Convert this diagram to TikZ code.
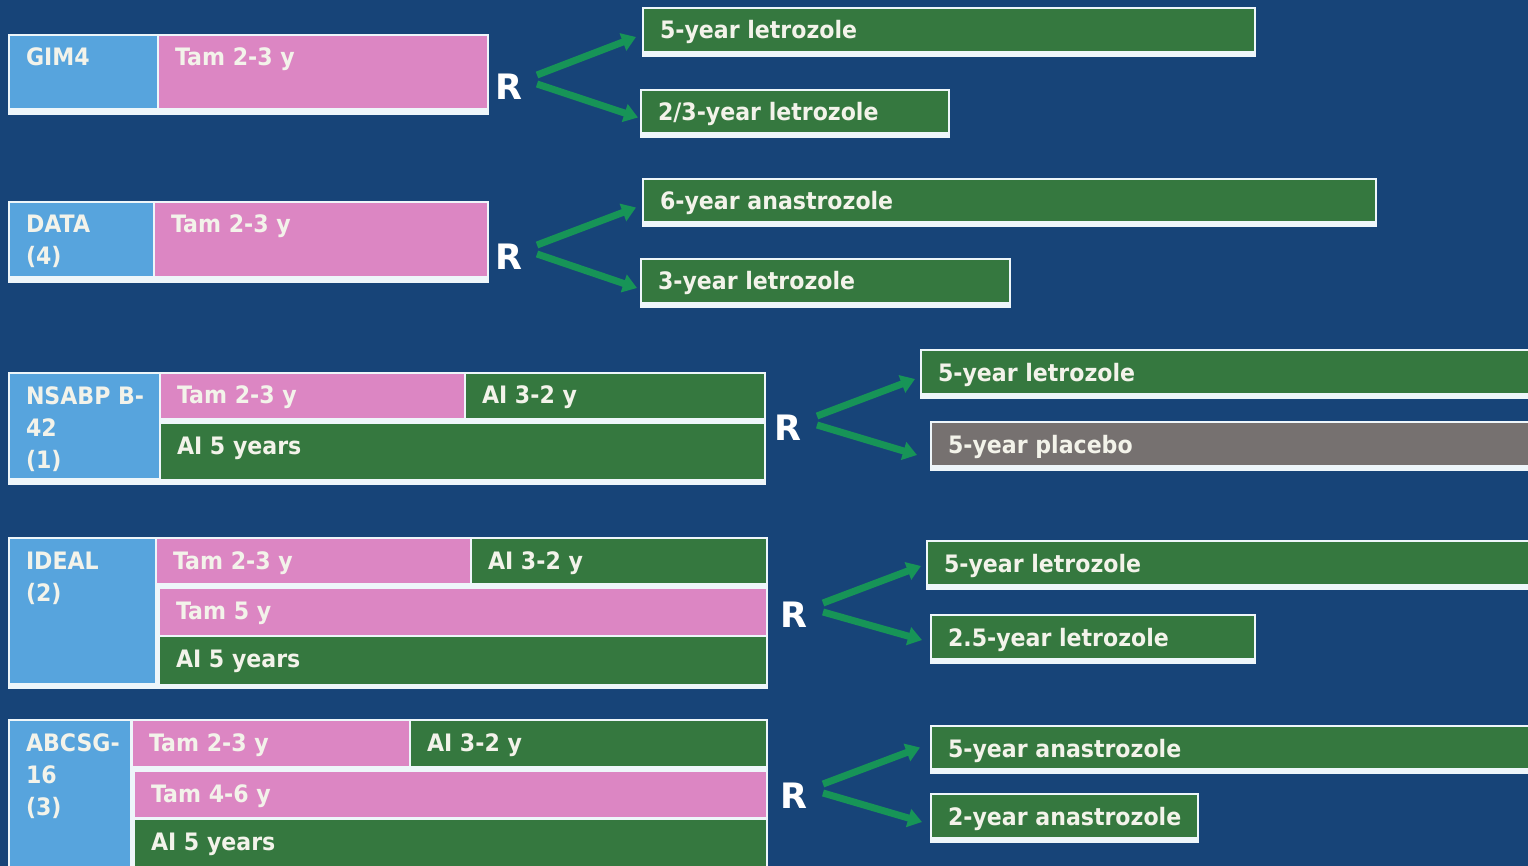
\documentclass[tikz,border=0pt]{standalone}
\usepackage{fontspec}
\setmainfont{DejaVu Sans}[FakeStretch=0.92]
\newfontfamily\rfont{DejaVu Sans}
\usetikzlibrary{calc,arrows.meta}
\definecolor{bg}{HTML}{174478}
\definecolor{cblue}{HTML}{57A4DD}
\definecolor{cpink}{HTML}{DC86C3}
\definecolor{cgreen}{HTML}{35783F}
\definecolor{cgray}{HTML}{767170}
\definecolor{edgecol}{HTML}{EEF6FA}
\definecolor{txt}{HTML}{F3F3EA}
\definecolor{arrcol}{HTML}{179457}
\tikzset{
  x=1pt, y=-1pt,
  cellsty/.style={anchor=north west, inner sep=0pt, outer sep=0pt, text=txt,
    font=\bfseries\fontsize{24}{32}\selectfont},
  edge/.style={fill=edgecol},
  rlab/.style={text=white, font=\rfont\bfseries\fontsize{35}{35}\selectfont, inner sep=0pt},
  arr/.style={draw=arrcol, line width=7pt, -{Triangle[length=14pt,width=18pt]}},
}
\newcommand\mkcell[7]{%
  \pgfmathsetmacro\cw{#4-#2}\pgfmathsetmacro\ch{#5-#3}%
  \node[cellsty,fill=#6,minimum width=\cw pt,minimum height=\ch pt] (#1) at (#2,#3)
  {\parbox[c][\ch pt][t]{\cw pt}{\raggedright\leftskip=16pt\rule{0pt}{30pt}#7}};%
}
\begin{document}
\begin{tikzpicture}
\fill[bg] (0,0) rectangle (1528,866);
\useasboundingbox (0,0) rectangle (1528,866);

% ---- GIM4
\fill[edge] (8,34) rectangle (489,115);
\mkcell{gim}{10}{36}{157}{108}{cblue}{GIM4}
\mkcell{gimtam}{159}{36}{487}{108}{cpink}{Tam 2-3 y}
\node[rlab] (R1) at (509,87) {R};
\fill[edge] (642,7) rectangle (1256,57);
\mkcell{t1a}{644}{9}{1254}{51}{cgreen}{5-year letrozole}
\fill[edge] (640,89) rectangle (950,138);
\mkcell{t1b}{642}{91}{948}{132}{cgreen}{2/3-year letrozole}
\draw[arr] ($(R1)+(28,-12)$) -- ($(t1a.west)+(-8,7)$);
\draw[arr] ($(R1)+(28,-3)$) -- ($(t1b.west)+(-4,6)$);

% ---- DATA
\fill[edge] (8,201) rectangle (489,283);
\mkcell{data}{10}{203}{153}{276}{cblue}{DATA\\(4)}
\mkcell{datatam}{155}{203}{487}{276}{cpink}{Tam 2-3 y}
\node[rlab] (R2) at (509,257) {R};
\fill[edge] (642,178) rectangle (1377,227);
\mkcell{t2a}{644}{180}{1375}{221}{cgreen}{6-year anastrozole}
\fill[edge] (640,258) rectangle (1011,308);
\mkcell{t2b}{642}{260}{1009}{302}{cgreen}{3-year letrozole}
\draw[arr] ($(R2)+(28,-12)$) -- ($(t2a.west)+(-8,7)$);
\draw[arr] ($(R2)+(28,-3)$) -- ($(t2b.west)+(-5,7)$);

% ---- NSABP B-42
\fill[edge] (8,372) rectangle (766,485);
\mkcell{nsabp}{10}{374}{159}{478}{cblue}{NSABP B-\\42\\(1)}
\mkcell{nstam}{161}{374}{464}{418}{cpink}{Tam 2-3 y}
\mkcell{nsai}{466}{374}{764}{418}{cgreen}{AI 3-2 y}
\mkcell{nsai5}{161}{424}{764}{479}{cgreen}{AI 5 years}
\node[rlab] (R3) at (788,428) {R};
\fill[edge] (920,349) rectangle (1532,399);
\mkcell{t3a}{922}{351}{1532}{393}{cgreen}{5-year letrozole}
\fill[edge] (930,421) rectangle (1532,471);
\mkcell{t3b}{932}{423}{1532}{465}{cgray}{5-year placebo}
\draw[arr] ($(R3)+(29,-12)$) -- ($(t3a.west)+(-7,7)$);
\draw[arr] ($(R3)+(29,-3)$) -- ($(t3b.west)+(-15,11)$);

% ---- IDEAL
\fill[edge] (8,537) rectangle (768,689);
\mkcell{ideal}{10}{539}{155}{683}{cblue}{IDEAL\\(2)}
\mkcell{idtam}{157}{539}{470}{583}{cpink}{Tam 2-3 y}
\mkcell{idai}{472}{539}{766}{583}{cgreen}{AI 3-2 y}
\mkcell{idtam5}{160}{589}{766}{635}{cpink}{Tam 5 y}
\mkcell{idai5}{160}{637}{766}{684}{cgreen}{AI 5 years}
\node[rlab] (R4) at (794,615) {R};
\fill[edge] (926,540) rectangle (1532,590);
\mkcell{t4a}{928}{542}{1532}{584}{cgreen}{5-year letrozole}
\fill[edge] (930,614) rectangle (1256,664);
\mkcell{t4b}{932}{616}{1254}{658}{cgreen}{2.5-year letrozole}
\draw[arr] ($(R4)+(29,-12)$) -- ($(t4a.west)+(-7,3)$);
\draw[arr] ($(R4)+(29,-3)$) -- ($(t4b.west)+(-10,3)$);

% ---- ABCSG-16
\fill[edge] (8,719) rectangle (768,870);
\mkcell{abcsg}{10}{721}{130}{870}{cblue}{ABCSG-\\16\\(3)}
\mkcell{abtam}{133}{721}{409}{766}{cpink}{Tam 2-3 y}
\mkcell{abai}{411}{721}{766}{766}{cgreen}{AI 3-2 y}
\mkcell{abtam46}{135}{772}{766}{817}{cpink}{Tam 4-6 y}
\mkcell{abai5}{135}{820}{766}{870}{cgreen}{AI 5 years}
\node[rlab] (R5) at (794,796) {R};
\fill[edge] (930,725) rectangle (1532,774);
\mkcell{t5a}{932}{727}{1532}{768}{cgreen}{5-year anastrozole}
\fill[edge] (930,793) rectangle (1199,843);
\mkcell{t5b}{932}{795}{1197}{837}{cgreen}{2-year anastrozole}
\draw[arr] ($(R5)+(29,-12)$) -- ($(t5a.west)+(-12,0)$);
\draw[arr] ($(R5)+(29,-3)$) -- ($(t5b.west)+(-10,6)$);
\end{tikzpicture}
\end{document}
